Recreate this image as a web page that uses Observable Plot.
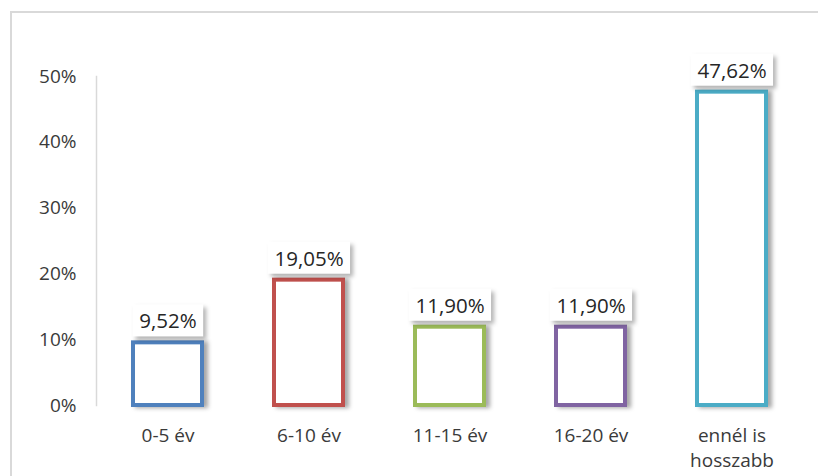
<!DOCTYPE html>
<html><head><meta charset="utf-8">
<script src="https://cdn.jsdelivr.net/npm/d3@7"></script>
<script src="https://cdn.jsdelivr.net/npm/@observablehq/plot@0.6"></script>
<style>
body{margin:0;background:#fff;}
#wrap{position:relative;width:818px;height:476px;overflow:hidden;background:#fff;}
#border{position:absolute;left:10px;top:11px;width:900px;height:600px;border:2px solid #d9d9d9;}
#chart{position:absolute;left:0;top:0;}
</style></head><body>
<div id="wrap"><div id="border"></div><div id="chart"></div></div>
<script>
const categories = ["0-5 év", "6-10 év", "11-15 év", "16-20 év", "ennél is hosszabb"];
const values = [9.52, 19.05, 11.90, 11.90, 47.62];
const valueLabels = ["9,52%", "19,05%", "11,90%", "11,90%", "47,62%"];
const colors = ["#4F81BD", "#C0504D", "#9BBB59", "#8064A2", "#4BACC6"];
const yTicks = [0, 10, 20, 30, 40, 50];
const yTickLabels = ["0%", "10%", "20%", "30%", "40%", "50%"];
const xTickLabels = ["0-5 év", "6-10 év", "11-15 év", "16-20 év", "ennél is\nhosszabb"];

const data = categories.map((c, i) => ({c, v: values[i], label: valueLabels[i], color: colors[i]}));

const chart = Plot.plot({
  width: 818,
  height: 476,
  marginLeft: 96,
  marginRight: 14,
  marginTop: 76,
  marginBottom: 71,
  style: {fontFamily: "'Open Sans', sans-serif", fontSize: "19px", color: "#3a3a3a", background: "transparent", overflow: "visible"},
  x: {domain: categories, paddingInner: 0.51, paddingOuter: 0.255},
  y: {domain: [0, 50]},
  color: {type: "identity"},
  marks: [
    Plot.axisX({tickSize: 0, tickPadding: 19, label: null, fontSize: 19, lineHeight: 1.3,
      tickFormat: d => xTickLabels[categories.indexOf(d)]}),
    Plot.axisY({ticks: yTicks, tickFormat: d => yTickLabels[yTicks.indexOf(d)], tickSize: 0, tickPadding: 20, label: null, fontSize: 19}),
    Plot.frame({anchor: "left", stroke: "#d9d9d9", strokeWidth: 1.5}),
    Plot.barY(data, {x: "c", y: "v", fill: "white", stroke: d => d.color, strokeWidth: 4}),
    Plot.text(data, {x: "c", y: "v", text: "label", dy: -21, lineAnchor: "middle", fontSize: 20.5, fill: "#262626"})
  ]
});
document.getElementById("chart").appendChild(chart);

// shadows & label boxes
const svgRect = chart.getBoundingClientRect();
const barG = chart.querySelector('g[aria-label="bar"]');
if (barG) barG.style.filter = "drop-shadow(4px 1px 2px rgba(0,0,0,0.35))";
const textG = chart.querySelector('g[aria-label="text"]');
if (textG) {
  const ns = "http://www.w3.org/2000/svg";
  const boxG = document.createElementNS(ns, "g");
  boxG.style.filter = "drop-shadow(3px 3px 2px rgba(0,0,0,0.3))";
  textG.querySelectorAll("text").forEach(t => {
    const r = t.getBoundingClientRect();
    const cy = r.top - svgRect.top + r.height / 2;
    const rect = document.createElementNS(ns, "rect");
    rect.setAttribute("x", r.left - svgRect.left - 6.5);
    rect.setAttribute("y", cy - 16);
    rect.setAttribute("width", r.width + 13);
    rect.setAttribute("height", 32);
    rect.setAttribute("fill", "white");
    boxG.appendChild(rect);
  });
  textG.parentNode.insertBefore(boxG, textG);
}
</script>
</body></html>
